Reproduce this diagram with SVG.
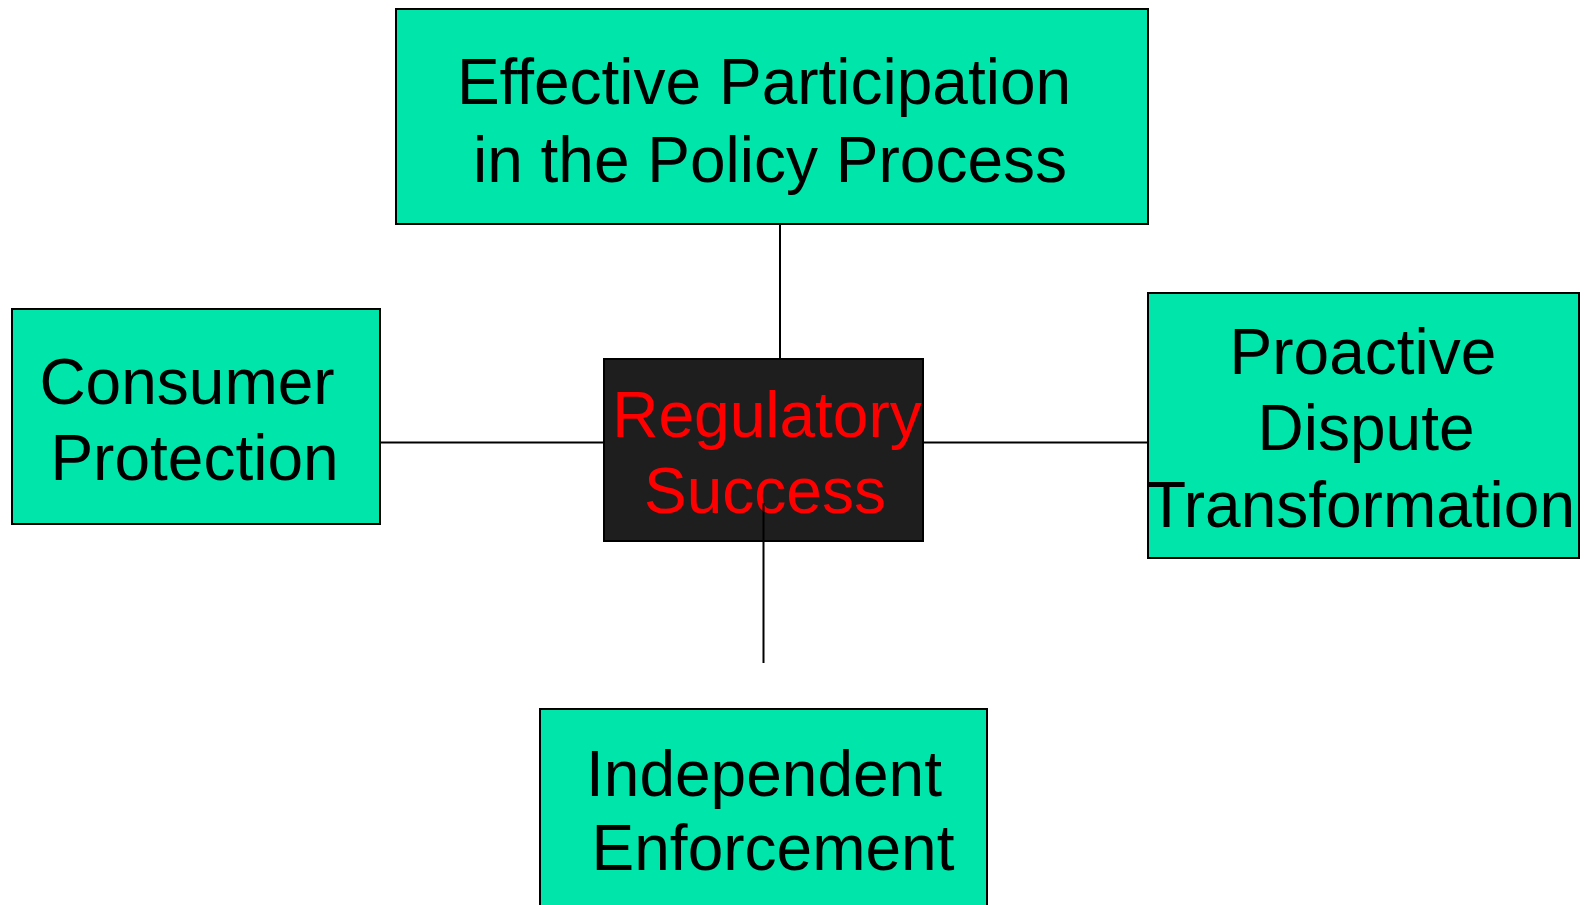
<svg xmlns="http://www.w3.org/2000/svg" width="1584" height="905" viewBox="0 0 1584 905">
  <style>
    .box { fill: #00E5AA; stroke: #000; stroke-width: 2; }
    .core { fill: #1E1E1E; stroke: #000; stroke-width: 2; }
    .lbl { font-family: "Liberation Sans", Arial, sans-serif; font-size: 64px; fill: #000; text-anchor: middle; }
    .core-lbl { fill: #FF0000; }
    .link { stroke: #000; stroke-width: 2; fill: none; }
  </style>
  <rect width="1584" height="905" fill="#fff"/>

  <g id="connectors">
    <line class="link" x1="780" y1="224" x2="780" y2="359"/>
    <line class="link" x1="380" y1="442.5" x2="604" y2="442.5"/>
    <line class="link" x1="923" y1="442.5" x2="1148" y2="442.5"/>
  </g>

  <g id="node-policy">
    <rect class="box" x="396" y="9" width="752" height="215"/>
    <text class="lbl" x="764" y="104">Effective Participation</text>
    <text class="lbl" x="770" y="182">in the Policy Process</text>
  </g>

  <g id="node-consumer">
    <rect class="box" x="12" y="309" width="368" height="215"/>
    <text class="lbl" x="187" y="404">Consumer</text>
    <text class="lbl" x="194.5" y="480">Protection</text>
  </g>

  <g id="node-dispute">
    <rect class="box" x="1148" y="293" width="431" height="265"/>
    <text class="lbl" x="1363" y="374">Proactive</text>
    <text class="lbl" x="1366" y="450">Dispute</text>
    <text class="lbl" x="1361" y="527">Transformation</text>
  </g>

  <g id="node-enforcement">
    <rect class="box" x="540" y="709" width="447" height="210"/>
    <text class="lbl" x="764" y="796">Independent</text>
    <text class="lbl" x="773" y="870">Enforcement</text>
  </g>

  <g id="node-core">
    <rect class="core" x="604" y="359" width="319" height="182"/>
    <text class="lbl core-lbl" x="767" y="437">Regulatory</text>
    <text class="lbl core-lbl" x="765" y="513">Success</text>
  </g>

  <!-- stub running down from the core box, drawn over its label -->
  <g id="connectors-lower">
    <line class="link" x1="763.5" y1="503" x2="763.5" y2="663"/>
  </g>
</svg>
